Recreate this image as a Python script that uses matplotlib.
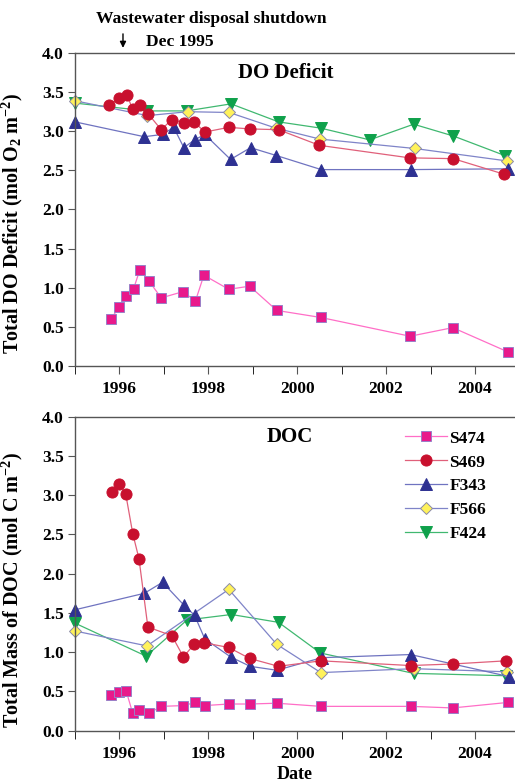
import numpy as np
import matplotlib
matplotlib.use("Agg")
import matplotlib.pyplot as plt
from matplotlib.ticker import MultipleLocator, FormatStrFormatter

plt.rcParams['font.family'] = ['Liberation Serif', 'DejaVu Serif']
plt.rcParams['font.weight'] = 'bold'
plt.rcParams['mathtext.fontset'] = 'custom'
plt.rcParams['mathtext.rm'] = 'Liberation Serif:bold'
plt.rcParams['mathtext.bf'] = 'Liberation Serif:bold'
plt.rcParams['mathtext.it'] = 'Liberation Serif:bold'

# ---- DO deficit (top panel) ----
do_s474_x = [1995.81, 1996.0, 1996.15, 1996.32, 1996.46, 1996.66, 1996.94, 1997.43, 1997.71,
             1997.90, 1998.46, 1998.93, 1999.54, 2000.53, 2002.54, 2003.50, 2004.74]
do_s474_y = [0.60, 0.76, 0.90, 0.99, 1.23, 1.09, 0.87, 0.95, 0.83, 1.16, 0.98, 1.02, 0.71,
             0.62, 0.38, 0.49, 0.18]

do_s469_x = [1995.77, 1996.0, 1996.17, 1996.30, 1996.47, 1996.65, 1996.94, 1997.18, 1997.45,
             1997.68, 1997.92, 1998.46, 1998.93, 1999.58, 2000.50, 2002.53, 2003.51, 2004.66]
do_s469_y = [3.34, 3.42, 3.46, 3.28, 3.34, 3.22, 3.02, 3.15, 3.11, 3.12, 2.99, 3.05, 3.03,
             3.02, 2.82, 2.66, 2.65, 2.45]

do_f343_x = [1995.0, 1996.56, 1996.97, 1997.22, 1997.45, 1997.69, 1997.92, 1998.50, 1998.95,
             1999.53, 2000.54, 2002.55, 2004.74]
do_f343_y = [3.12, 2.93, 2.96, 3.05, 2.79, 2.89, 2.96, 2.64, 2.79, 2.69, 2.51, 2.51, 2.52]

do_f566_x = [1995.0, 1996.63, 1997.54, 1998.47, 1999.52, 2000.51, 2002.64, 2004.73]
do_f566_y = [3.39, 3.20, 3.25, 3.24, 3.04, 2.90, 2.78, 2.62]

do_f424_x = [1995.0, 1996.62, 1997.51, 1998.51, 1999.58, 2000.53, 2001.63, 2002.62, 2003.51, 2004.67]
do_f424_y = [3.36, 3.26, 3.26, 3.35, 3.12, 3.04, 2.89, 3.09, 2.94, 2.69]

# ---- DOC (bottom panel) ----
doc_s474_x = [1995.81, 1995.99, 1996.15, 1996.30, 1996.45, 1996.66, 1996.94, 1997.44, 1997.71,
              1997.92, 1998.46, 1998.93, 1999.54, 2000.53, 2002.55, 2003.50, 2004.74]
doc_s474_y = [0.45, 0.49, 0.51, 0.22, 0.26, 0.22, 0.31, 0.32, 0.36, 0.32, 0.34, 0.34, 0.35,
              0.31, 0.31, 0.29, 0.36]

doc_s469_x = [1995.83, 1996.0, 1996.14, 1996.30, 1996.44, 1996.64, 1997.18, 1997.44, 1997.68,
              1997.90, 1998.46, 1998.93, 1999.58, 2000.53, 2002.55, 2003.51, 2004.70]
doc_s469_y = [3.04, 3.14, 3.02, 2.51, 2.19, 1.32, 1.21, 0.94, 1.10, 1.12, 1.06, 0.92, 0.82,
              0.89, 0.83, 0.85, 0.89]

doc_f343_x = [1995.0, 1996.56, 1996.97, 1997.45, 1997.69, 1997.92, 1998.50, 1998.94, 1999.54,
              2000.55, 2002.55, 2004.76]
doc_f343_y = [1.54, 1.75, 1.89, 1.60, 1.47, 1.17, 0.94, 0.82, 0.77, 0.93, 0.97, 0.69]

doc_f566_x = [1995.0, 1996.62, 1998.46, 1999.54, 2000.53, 2002.62, 2004.73]
doc_f566_y = [1.27, 1.08, 1.80, 1.10, 0.74, 0.79, 0.75]

doc_f424_x = [1995.0, 1996.60, 1997.52, 1998.52, 1999.58, 2000.52, 2002.62, 2004.70]
doc_f424_y = [1.37, 0.95, 1.41, 1.48, 1.38, 0.99, 0.73, 0.70]

labels = ['S474', 'S469', 'F343', 'F566', 'F424']

# style per series: marker, marker face, marker edge, line colour, marker size
styles = {
    'S474': dict(marker='s', mfc='#e8198b', mec='#9a7fc8', color='#ff6ec7', ms=6.5),
    'S469': dict(marker='o', mfc='#c8102e', mec='#c8102e', color='#e0607a', ms=8),
    'F343': dict(marker='^', mfc='#2e3192', mec='#2e3192', color='#6f73c0', ms=8),
    'F566': dict(marker='D', mfc='#fff25a', mec='#8a8aa8', color='#7f84c8', ms=6.5),
    'F424': dict(marker='v', mfc='#0fa14b', mec='#0fa14b', color='#40b870', ms=8),
}

fig = plt.figure(figsize=(5.15, 7.82), dpi=100)
ax1 = fig.add_axes([0.1456, 0.532, 0.8544, 0.4002])
ax2 = fig.add_axes([0.1456, 0.0656, 0.8544, 0.4016])

top_data = [(do_s474_x, do_s474_y), (do_s469_x, do_s469_y), (do_f343_x, do_f343_y),
            (do_f566_x, do_f566_y), (do_f424_x, do_f424_y)]
bot_data = [(doc_s474_x, doc_s474_y), (doc_s469_x, doc_s469_y), (doc_f343_x, doc_f343_y),
            (doc_f566_x, doc_f566_y), (doc_f424_x, doc_f424_y)]

# draw order: S474 last so it sits on top as in the reference
order = [4, 3, 2, 1, 0]
for ax, data in [(ax1, top_data), (ax2, bot_data)]:
    for i in order:
        st = styles[labels[i]]
        x, y = data[i]
        ax.plot(x, y, linestyle='-', lw=0.9, color=st['color'], marker=st['marker'],
                markerfacecolor=st['mfc'], markeredgecolor=st['mec'], markeredgewidth=0.7,
                markersize=st['ms'], label=labels[i], clip_on=False)

for ax in (ax1, ax2):
    ax.set_xlim(1995.0, 2004.9)
    ax.set_ylim(0, 4.0)
    ax.yaxis.set_major_locator(MultipleLocator(0.5))
    ax.yaxis.set_major_formatter(FormatStrFormatter('%.1f'))
    ax.set_xticks([1996, 1998, 2000, 2002, 2004])
    ax.xaxis.set_minor_locator(MultipleLocator(1))
    ax.tick_params(axis='both', direction='out', color='#555555', labelsize=12.5)
    ax.tick_params(axis='x', which='major', length=6, pad=5)
    ax.tick_params(axis='x', which='minor', length=6)
    ax.tick_params(axis='y', length=5, pad=3)
    for lab in ax.get_xticklabels() + ax.get_yticklabels():
        lab.set_fontweight('bold')
    for s in ['left', 'bottom', 'top']:
        ax.spines[s].set_color('#555555')
        ax.spines[s].set_linewidth(1.0)
    ax.spines['right'].set_visible(False)

ax1.set_ylabel('Total DO Deficit (mol O$_\\mathbf{2}$ m$^\\mathbf{-2}$)', fontsize=14.5,
               fontweight='bold')
ax2.set_ylabel('Total Mass of DOC (mol C m$^\\mathbf{-2}$)', fontsize=14.5,
               fontweight='bold')
ax1.yaxis.set_label_coords(-0.114, 0.455)
ax2.yaxis.set_label_coords(-0.114, 0.448)
ax2.set_xlabel('Date', fontsize=13, fontweight='bold', labelpad=3)

ax1.text(0.48, 0.935, 'DO Deficit', transform=ax1.transAxes, ha='center', va='center',
         fontsize=15, fontweight='bold')
ax2.text(0.4875, 0.935, 'DOC', transform=ax2.transAxes, ha='center', va='center',
         fontsize=15, fontweight='bold')

# shutdown annotation
fig.text(211 / 515, 1 - 19 / 782, 'Wastewater disposal shutdown', ha='center', va='center',
         fontsize=12.6, fontweight='bold')
fig.text(146 / 515, 1 - 42 / 782, 'Dec 1995', ha='left', va='center',
         fontsize=12.6, fontweight='bold')
ax1.annotate('', xy=(1996.08, 4.03), xytext=(1996.08, 4.28), xycoords='data',
             arrowprops=dict(arrowstyle='-|>', color='black', lw=1, mutation_scale=9),
             annotation_clip=False)

handles, labs = ax2.get_legend_handles_labels()
hmap = dict(zip(labs, handles))
ax2.legend([hmap[l] for l in labels], labels, loc='upper left', bbox_to_anchor=(0.715, 1.006),
           frameon=False, handlelength=2.4, handletextpad=0.15, labelspacing=0.45,
           prop={'weight': 'bold', 'size': 12.5})

fig.savefig('out.png', dpi=100)
